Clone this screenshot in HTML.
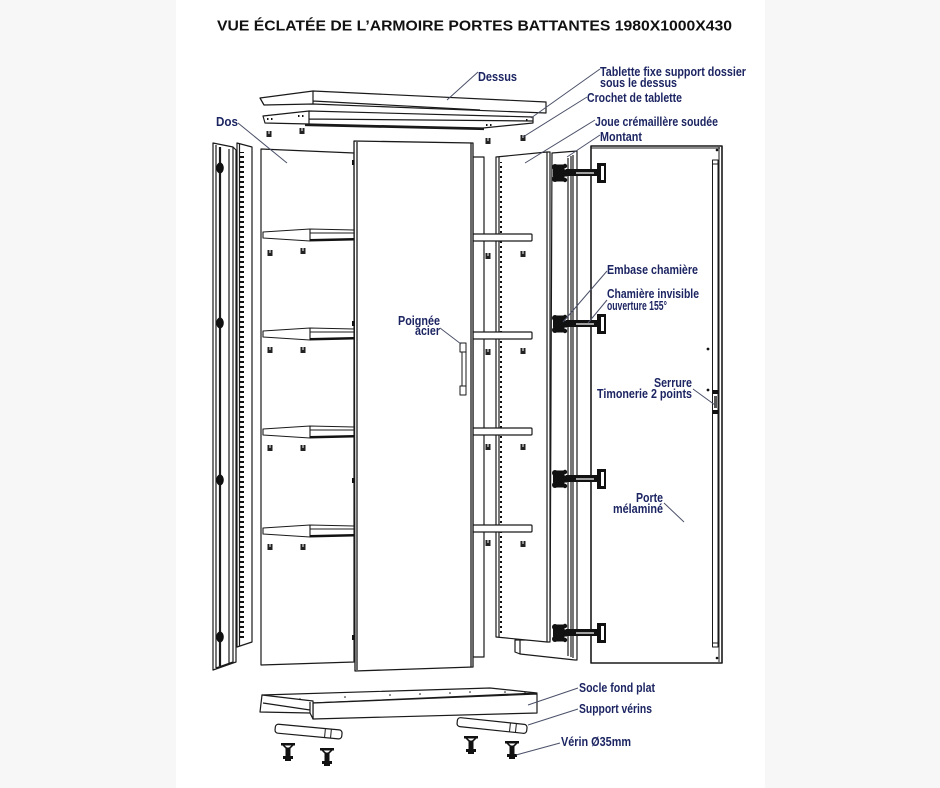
<!DOCTYPE html>
<html><head><meta charset="utf-8">
<style>
html,body{margin:0;padding:0;background:#f7f7f7;}
svg{display:block;}
.l{font-family:"Liberation Sans",Arial,sans-serif;font-weight:bold;font-size:12.5px;fill:#1c2562;}
</style></head>
<body>
<svg width="940" height="788" viewBox="0 0 940 788" xmlns="http://www.w3.org/2000/svg">
<defs>
<pattern id="dash" patternUnits="userSpaceOnUse" width="6" height="5">
<rect x="0" y="1" width="4" height="2" fill="#111"/>
</pattern>
<pattern id="dot" patternUnits="userSpaceOnUse" width="6" height="5">
<rect x="0" y="2" width="2" height="2" fill="#111"/>
</pattern>
<g id="hinge">
<rect x="553" y="-3.5" width="14" height="7" fill="#111"/>
<rect x="556.5" y="-8.5" width="8" height="17" fill="#111"/>
<circle cx="555" cy="-6" r="3" fill="#111"/>
<circle cx="555" cy="6" r="3" fill="#111"/>
<circle cx="565" cy="-7" r="2.2" fill="#111"/>
<circle cx="565" cy="7" r="2.2" fill="#111"/>
<rect x="566" y="-4" width="33" height="7" fill="#111"/>
<rect x="576" y="-0.6" width="18" height="1.2" fill="#fff"/>
<rect x="597" y="-10" width="9" height="20" fill="#111"/>
<rect x="601" y="-7" width="3" height="14" fill="#fff"/>
</g>
<g id="clip">
<rect x="-2.5" y="-3" width="5" height="6" fill="#222"/>
<rect x="-0.5" y="-3" width="1" height="3" fill="#fff"/>
</g>
<g id="verin" fill="#111">
<rect x="-7" y="-9" width="14" height="2.5"/>
<path d="M-6,-7 L-2,-3 L2,-3 L6,-7 L4,-7 L1,-4.5 L-1,-4.5 L-4,-7 Z"/>
<rect x="-2.5" y="-4" width="5" height="9"/>
<rect x="-5" y="4" width="10" height="3"/>
<rect x="-3" y="7" width="6" height="2"/>
</g>
</defs>

<rect x="176" y="0" width="589" height="788" fill="#fff"/>

<text x="217" y="30.5" font-family="Liberation Sans, Arial, sans-serif" font-weight="bold" font-size="15" fill="#111" textLength="515" lengthAdjust="spacingAndGlyphs">VUE ÉCLATÉE DE L’ARMOIRE PORTES BATTANTES 1980X1000X430</text>

<g fill="#fff" stroke="#1a1a1a" stroke-width="1.2" stroke-linejoin="round">
<path d="M260,98 L313,91 L546,102 L546,113 L313,104 L264,105 Z"/>
<path d="M313,91 V104 M313,101 L480,110 M264,105 L260,98" fill="none"/>
<path d="M263,116 L309,111 L533,117 L533,123 L483,128 L309,124 L265,123 Z"/>
<path d="M309,111 V124 M309,119 L533,121" fill="none"/>
<path d="M305,125 L484,129" fill="none" stroke-width="2.2"/>
</g>
<g fill="#111">
<rect x="267" y="118" width="1.5" height="2"/><rect x="271" y="118" width="1.5" height="2"/>
<rect x="298" y="115" width="1.5" height="2"/><rect x="302" y="115" width="1.5" height="2"/>
<rect x="486" y="124" width="1.5" height="2"/><rect x="490" y="124" width="1.5" height="2"/>
<rect x="526" y="119" width="1.5" height="2"/>
</g>

<use href="#clip" x="269" y="134"/>
<use href="#clip" x="302" y="131"/>
<use href="#clip" x="488" y="141"/>
<use href="#clip" x="523" y="138"/>

<g fill="#fff" stroke="#1a1a1a" stroke-width="1.2" stroke-linejoin="round">
<path d="M213,143 L233,147 L236,150 L236,662 L233,663 L213,670 Z"/>
<path d="M216,145 V668 M229,149 V664 M233,147 V663 M216,668 L233,662" fill="none"/>
<path d="M220,147 V666" fill="none" stroke-width="2.2"/>
<path d="M237,143 L252,147 L252,642 L237,647 Z"/>
<path d="M239.5,144 V646" fill="none"/>
<path d="M261,149 L354,153 L354,662 L261,665 Z"/>
</g>
<rect x="240" y="152" width="4" height="488" fill="url(#dash)"/>
<rect x="248" y="152" width="2" height="488" fill="url(#dot)"/>
<g fill="#111">
<ellipse cx="220" cy="168" rx="3.8" ry="5.5"/><ellipse cx="220" cy="323" rx="3.8" ry="5.5"/>
<ellipse cx="220" cy="480" rx="3.8" ry="5.5"/><ellipse cx="220" cy="637" rx="3.8" ry="5.5"/>
</g>

<g fill="#fff" stroke="#1a1a1a" stroke-width="1.1" stroke-linejoin="round">
<path d="M263,232 L310,229 L354,230 L354,240 L310,241 L263,238 Z"/>
<path d="M310,229 V241 M310,233 L354,233" fill="none"/>
<path d="M263,331 L310,328 L354,329 L354,339 L310,340 L263,337 Z"/>
<path d="M310,328 V340 M310,332 L354,332" fill="none"/>
<path d="M263,429 L310,426 L354,427 L354,437 L310,438 L263,435 Z"/>
<path d="M310,426 V438 M310,430 L354,430" fill="none"/>
<path d="M263,528 L310,525 L354,526 L354,536 L310,537 L263,534 Z"/>
<path d="M310,525 V537 M310,529 L354,529" fill="none"/>
</g>
<g stroke="#111" stroke-width="2"><path d="M310,240 L354,239 M310,339 L354,338 M310,437 L354,436 M310,536 L354,535"/></g>
<use href="#clip" x="270" y="253"/><use href="#clip" x="303" y="251"/>
<use href="#clip" x="270" y="350"/><use href="#clip" x="303" y="350"/>
<use href="#clip" x="270" y="448"/><use href="#clip" x="303" y="448"/>
<use href="#clip" x="270" y="547"/><use href="#clip" x="303" y="547"/>

<g fill="#fff" stroke="#1a1a1a" stroke-width="1.2" stroke-linejoin="round">
<path d="M473,157 L484,157 L484,657 L473,657 Z"/>
<path d="M515,640 L515,652 L520,654 L575,660 L577,660 L577,151 L552,153 L550,640 Z"/>
<path d="M520,640 V654 M568,158 V656 M571,156 V657 M573,155 V658" fill="none"/>
<path d="M496,157 L547,152 L550,152 L550,642 L547,642 L496,637 Z"/>
<path d="M499,157 V637 M547,152 V642" fill="none"/>
</g>
<rect x="500" y="162" width="4" height="472" fill="url(#dash)"/>
<rect x="536" y="160" width="2" height="478" fill="url(#dot)"/>
<use href="#clip" x="488" y="256"/><use href="#clip" x="523" y="254"/>
<use href="#clip" x="488" y="352"/><use href="#clip" x="523" y="351"/>
<use href="#clip" x="488" y="447"/><use href="#clip" x="523" y="447"/>
<use href="#clip" x="488" y="543"/><use href="#clip" x="523" y="544"/>

<g fill="#fff" stroke="#1a1a1a" stroke-width="1.2">
<rect x="473" y="234" width="59" height="7" rx="1"/>
<rect x="473" y="332" width="59" height="7" rx="1"/>
<rect x="473" y="428" width="59" height="7" rx="1"/>
<rect x="473" y="525" width="59" height="7" rx="1"/>
</g>

<g fill="#fff" stroke="#1a1a1a" stroke-width="1.3" stroke-linejoin="round">
<path d="M354,141 L473,143 L473,667 L355,671 Z"/>
<path d="M357,142 V670 M471,143 V667" fill="none"/>
<rect x="460" y="343" width="6" height="9" stroke-width="1"/>
<rect x="460" y="386" width="6" height="9" stroke-width="1"/>
<rect x="462" y="352" width="4" height="34" stroke-width="1"/>
</g>
<g fill="#111">
<rect x="352" y="160" width="2.5" height="5"/><rect x="352" y="321" width="2.5" height="5"/>
<rect x="352" y="478" width="2.5" height="5"/><rect x="352" y="635" width="2.5" height="5"/>
</g>

<g fill="#fff" stroke="#1a1a1a" stroke-width="1.3" stroke-linejoin="round">
<path d="M591,146 L722,146 L722,663 L591,663 Z" stroke-width="1.6"/>
<path d="M719,147 V662 M591,148 L720,148" fill="none" stroke-width="1"/>
<rect x="712.5" y="160" width="5.5" height="487" stroke-width="1"/>
<path d="M712.5,164 H718 M712.5,643 H718" fill="none" stroke-width="1"/>
</g>
<g fill="#111">
<rect x="713" y="390" width="5" height="4"/><rect x="713" y="410" width="5" height="4"/>
<rect x="714" y="396" width="3" height="12" fill="#555"/>
<circle cx="708" cy="349" r="1.4"/><circle cx="708" cy="390" r="1.4"/>
<circle cx="717" cy="150" r="1.3"/><circle cx="717" cy="658" r="1.3"/>
</g>

<use href="#hinge" x="0" y="173"/>
<use href="#hinge" x="0" y="324"/>
<use href="#hinge" x="0" y="479"/>
<use href="#hinge" x="0" y="633"/>

<g fill="#fff" stroke="#1a1a1a" stroke-width="1.2" stroke-linejoin="round">
<path d="M262,695 L490,688 L537,693 L313,703 Z"/>
<path d="M313,703 L537,694 L537,713 L313,719 Z"/>
<path d="M262,695 L313,701 L313,719 L310,713 L260,712 Z"/>
<path d="M263,703 L310,710 M310,702 V713" fill="none"/>
<g transform="rotate(5.3 308 732)">
<rect x="275" y="727" width="67" height="9" rx="3"/>
<path d="M325,727 V736 M331,727 V736" fill="none" stroke-width="1"/>
</g>
<g transform="rotate(6 492 726)">
<rect x="457" y="721" width="70" height="9" rx="3"/>
<path d="M510,721 V730 M516,721 V730" fill="none" stroke-width="1"/>
</g>
</g>
<g fill="#111">
<circle cx="300" cy="699" r="0.8"/><circle cx="345" cy="697" r="0.8"/><circle cx="390" cy="695" r="0.8"/>
<circle cx="420" cy="694" r="0.8"/><circle cx="450" cy="693" r="0.8"/><circle cx="470" cy="692" r="0.8"/>
<circle cx="505" cy="692" r="0.8"/><circle cx="525" cy="693" r="0.8"/>
</g>
<use href="#verin" x="288" y="752"/>
<use href="#verin" x="327" y="757"/>
<use href="#verin" x="471" y="745"/>
<use href="#verin" x="512" y="750"/>

<g stroke="#4a5068" stroke-width="1" fill="none">
<path d="M478,72 L447,100"/>
<path d="M600,69 L531,118"/>
<path d="M587,97 L523,137"/>
<path d="M238,123 L287,163"/>
<path d="M595,120 L525,163"/>
<path d="M600,135 L567,157"/>
<path d="M607,271 L563,322"/>
<path d="M607,300 L588,323"/>
<path d="M440,328 L461,344"/>
<path d="M693,389 L715,405"/>
<path d="M664,503 L684,522"/>
<path d="M578,688 L528,705"/>
<path d="M578,709 L528,725"/>
<path d="M560,743 L516,755"/>
</g>

<text class="l" x="478" y="81" textLength="39" lengthAdjust="spacingAndGlyphs">Dessus</text>
<text class="l" x="600" y="76" textLength="146" lengthAdjust="spacingAndGlyphs">Tablette fixe support dossier</text>
<text class="l" x="600" y="87" textLength="77" lengthAdjust="spacingAndGlyphs">sous le dessus</text>
<text class="l" x="587" y="102" textLength="95" lengthAdjust="spacingAndGlyphs">Crochet de tablette</text>
<text class="l" x="216" y="126" textLength="22" lengthAdjust="spacingAndGlyphs">Dos</text>
<text class="l" x="595" y="126" textLength="123" lengthAdjust="spacingAndGlyphs">Joue crémaillère soudée</text>
<text class="l" x="600" y="141" textLength="42" lengthAdjust="spacingAndGlyphs">Montant</text>
<text class="l" x="607" y="274" textLength="91" lengthAdjust="spacingAndGlyphs">Embase chamière</text>
<text class="l" x="607" y="298" textLength="92" lengthAdjust="spacingAndGlyphs">Chamière invisible</text>
<text class="l" x="607" y="310" textLength="60" lengthAdjust="spacingAndGlyphs">ouverture 155°</text>
<text class="l" x="398" y="325" textLength="42" lengthAdjust="spacingAndGlyphs">Poignée</text>
<text class="l" x="415" y="335" textLength="25" lengthAdjust="spacingAndGlyphs">acier</text>
<text class="l" x="654" y="387" textLength="38" lengthAdjust="spacingAndGlyphs">Serrure</text>
<text class="l" x="597" y="398" textLength="95" lengthAdjust="spacingAndGlyphs">Timonerie 2 points</text>
<text class="l" x="636" y="502" textLength="27" lengthAdjust="spacingAndGlyphs">Porte</text>
<text class="l" x="613" y="513" textLength="50" lengthAdjust="spacingAndGlyphs">mélaminé</text>
<text class="l" x="579" y="692" textLength="76" lengthAdjust="spacingAndGlyphs">Socle fond plat</text>
<text class="l" x="579" y="713" textLength="73" lengthAdjust="spacingAndGlyphs">Support vérins</text>
<text class="l" x="561" y="746" textLength="70" lengthAdjust="spacingAndGlyphs">Vérin Ø35mm</text>
</svg>
</body></html>
